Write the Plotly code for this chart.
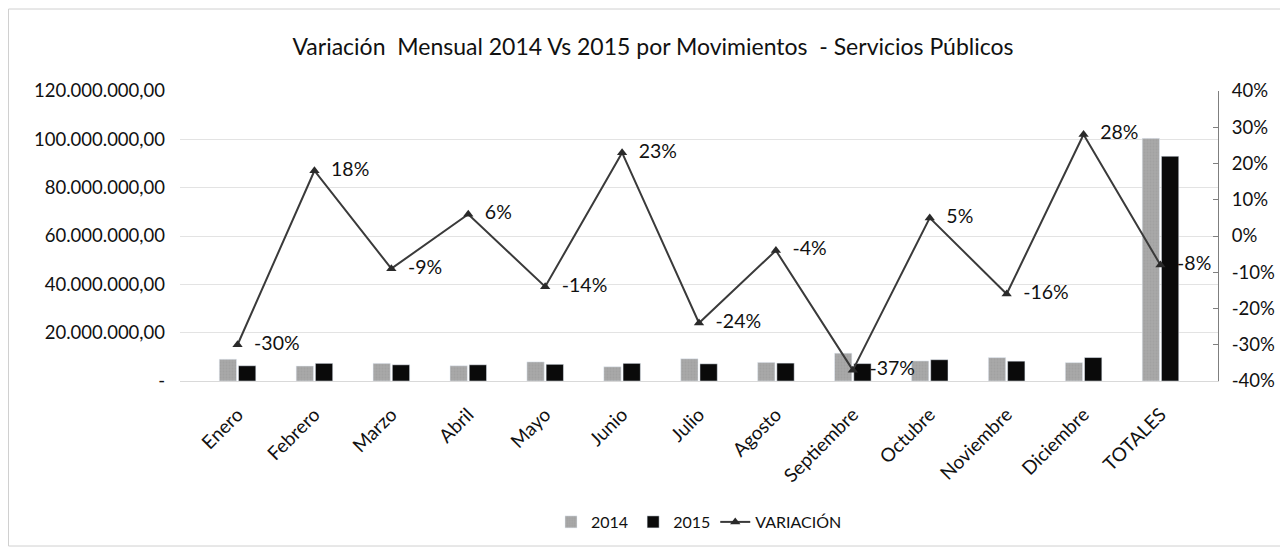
import plotly.graph_objects as go

months = ["Enero", "Febrero", "Marzo", "Abril", "Mayo", "Junio", "Julio", "Agosto",
          "Septiembre", "Octubre", "Noviembre", "Diciembre", "TOTALES"]
v2014 = [9.0e6, 6.2e6, 7.3e6, 6.3e6, 7.9e6, 5.9e6, 9.2e6, 7.7e6, 11.5e6, 8.3e6, 9.7e6, 7.6e6, 100.4e6]
v2015 = [6.3e6, 7.3e6, 6.7e6, 6.7e6, 6.9e6, 7.3e6, 7.1e6, 7.4e6, 7.2e6, 8.8e6, 8.2e6, 9.7e6, 93.0e6]
variacion = [-0.30, 0.18, -0.09, 0.06, -0.14, 0.23, -0.24, -0.04, -0.37, 0.05, -0.16, 0.28, -0.08]
var_labels = ["-30%", "18%", "-9%", "6%", "-14%", "23%", "-24%", "-4%", "-37%", "5%", "-16%", "28%", "-8%"]

left_ticks = [0, 20e6, 40e6, 60e6, 80e6, 100e6, 120e6]
left_text = ["-", "20.000.000,00", "40.000.000,00", "60.000.000,00", "80.000.000,00",
             "100.000.000,00", "120.000.000,00"]
right_ticks = [-0.4, -0.3, -0.2, -0.1, 0, 0.1, 0.2, 0.3, 0.4]
right_text = ["-40%", "-30%", "-20%", "-10%", "0%", "10%", "20%", "30%", "40%"]

FONT = "Lato, 'Open Sans', sans-serif"

fig = go.Figure()
fig.add_trace(go.Bar(x=months, y=v2014, name="2014", marker=dict(color="#A8A8A8",
                     pattern=dict(shape=".", fgcolor="#9A9A9A", size=3, solidity=0.3))))
fig.add_trace(go.Bar(x=months, y=v2015, name="2015", marker=dict(color="#0A0A0A")))
fig.add_trace(go.Scatter(x=months, y=variacion, name="VARIACIÓN", yaxis="y2",
                         mode="lines+markers+text", text=["  " + t for t in var_labels],
                         textposition="middle right",
                         textfont=dict(size=19.5, color="#111111", family=FONT),
                         line=dict(color="#3A3A3A", width=2),
                         marker=dict(symbol="triangle-up", size=9, color="#2A2A2A")))

# page has an 8px body margin, so figure is 1280x544 placed at (8,8)
fig.update_layout(
    width=1280, height=544,
    margin=dict(l=172, r=70, t=83, b=171, autoexpand=False),
    paper_bgcolor="white", plot_bgcolor="white",
    font=dict(family=FONT, color="#222222", size=15),
    title=dict(text="Variación  Mensual 2014 Vs 2015 por Movimientos  - Servicios Públicos",
               x=(653 - 8) / 1280, xanchor="center", y=1 - (47 - 8) / 544, yanchor="middle",
               font=dict(size=23, color="#111111", family=FONT)),
    barmode="group", bargap=0.5, bargroupgap=0.1,
    xaxis=dict(tickangle=-45, tickfont=dict(size=19, color="#111111"), showgrid=False,
               showline=True, linecolor="#D9D9D9", ticks="", ticklabelstandoff=14,
               automargin=False),
    yaxis=dict(range=[0, 120e6], tickvals=left_ticks, ticktext=left_text,
               showgrid=True, gridcolor="#E3E3E3", zeroline=False, showline=False,
               tickfont=dict(size=18.5, color="#111111"), ticklen=0, ticklabelstandoff=14,
               automargin=False),
    yaxis2=dict(range=[-0.4, 0.4], tickvals=right_ticks, ticktext=right_text,
                overlaying="y", side="right", showgrid=False, zeroline=False,
                showline=True, linecolor="#7F7F7F", ticks="inside", ticklen=5,
                tickcolor="#7F7F7F", tickfont=dict(size=18.5, color="#111111"),
                ticklabelstandoff=9, automargin=False),
    legend=dict(orientation="h", x=0.5, xanchor="center", y=-(522 - 381) / 290, yanchor="middle",
                font=dict(size=16, color="#111111"), traceorder="normal"),
    showlegend=True,
)

fig.add_shape(type="rect", xref="paper", yref="paper",
              x0=(8.5 - 180) / 1038, x1=(1282 - 180) / 1038,
              y0=-(546 - 381) / 290, y1=(381 - 9) / 290,
              line=dict(color="#D0D0D0", width=1), fillcolor="rgba(0,0,0,0)", layer="below")

fig.write_html("out.html")
